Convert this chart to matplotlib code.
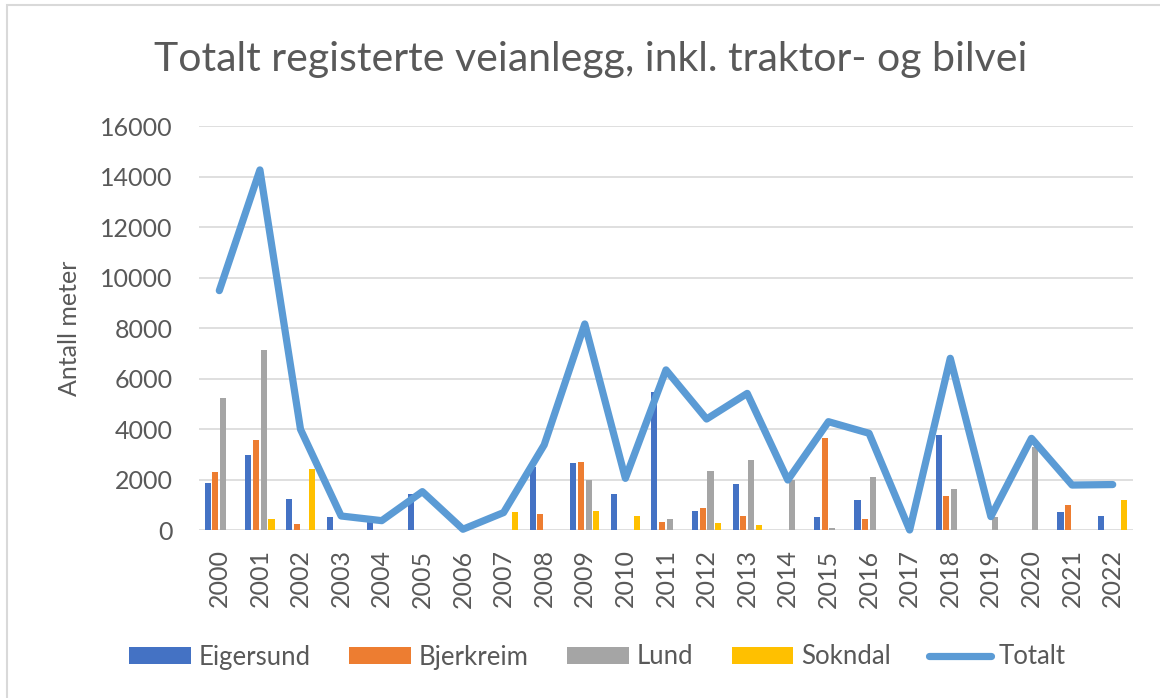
import numpy as np
import matplotlib
matplotlib.use('Agg')
import matplotlib.pyplot as plt
from matplotlib.patches import Rectangle

plt.rcParams['font.family'] = ['Lato', 'DejaVu Sans']

# Data
years = [str(y) for y in range(2000, 2023)]
eigersund = [1850, 2960, 1240, 500, 400, 1425, 0, 0, 2500, 2640, 1425, 5480,
             750, 1810, 0, 500, 1190, 0, 3760, 0, 0, 700, 555]
bjerkreim = [2285, 3565, 250, 0, 0, 0, 0, 0, 620, 2705, 0, 330,
             870, 570, 0, 3630, 435, 0, 1360, 0, 0, 990, 0]
lund = [5215, 7130, 0, 0, 0, 0, 0, 0, 0, 1980, 0, 435,
        2350, 2770, 1980, 65, 2085, 0, 1610, 500, 3300, 0, 0]
sokndal = [0, 435, 2400, 0, 0, 0, 0, 700, 0, 750, 570, 0,
           265, 185, 0, 0, 0, 0, 0, 0, 0, 0, 1190]
totalt = [9480, 14260, 3985, 555, 370, 1520, 30, 690, 3370, 8160, 2045, 6340,
          4395, 5410, 1980, 4290, 3830, 0, 6800, 530, 3630, 1780, 1800]

text_col = '#595959'
colors = ['#4472C4', '#ED7D31', '#A5A5A5', '#FFC000']
names = ['Eigersund', 'Bjerkreim', 'Lund', 'Sokndal']
series = [eigersund, bjerkreim, lund, sokndal]

fig = plt.figure(figsize=(11.6, 6.98), dpi=100)
ax = fig.add_axes([199 / 1160, 1 - 530 / 698, (1133 - 199) / 1160, (530 - 126) / 698])

x = np.arange(len(years))
pitch = 0.19
handles = []
for i, (vals, c, n) in enumerate(zip(series, colors, names)):
    h = ax.bar(x + (i - 1.5) * pitch, vals, width=0.15, color=c, label=n, zorder=2)
    handles.append(h)

line, = ax.plot(x, totalt, color='#5B9BD5', lw=5.2, label='Totalt', zorder=3,
                solid_joinstyle='round', solid_capstyle='round', clip_on=False)
handles.append(line)

ax.set_xlim(-0.5, len(years) - 0.5)
ax.set_ylim(0, 16000)
ax.set_yticks(range(0, 16001, 2000))
ax.set_xticks(x)
ax.set_xticklabels(years, rotation=90)
ax.tick_params(axis='y', length=0, pad=19, labelsize=18, labelcolor=text_col)
ax.tick_params(axis='x', length=0, pad=14, labelsize=18, labelcolor=text_col)
for s in ax.spines.values():
    s.set_visible(False)
ax.grid(axis='y', color='#D9D9D9', lw=1.2, zorder=0)
ax.set_axisbelow(True)

ax.set_ylabel('Antall meter', fontsize=18, color=text_col, labelpad=14)
fig.text(0.509, 1 - 60 / 698, 'Totalt registerte veianlegg, inkl. traktor- og bilvei',
         ha='center', va='center', fontsize=29.5, color=text_col)

leg = fig.legend(handles=handles, loc='center', bbox_to_anchor=(0.515, 1 - 657 / 698),
                 ncol=5, frameon=False, fontsize=18.5, handlelength=2.4,
                 handleheight=0.6, handletextpad=0.3, columnspacing=1.5,
                 labelcolor=text_col)

fig.patches.append(Rectangle((7 / 1160, -0.05), 1.1, 1 - 5 / 698 + 0.05,
                             transform=fig.transFigure, fill=False,
                             edgecolor='#D9D9D9', lw=1.5))

fig.savefig('out.png', dpi=100)
